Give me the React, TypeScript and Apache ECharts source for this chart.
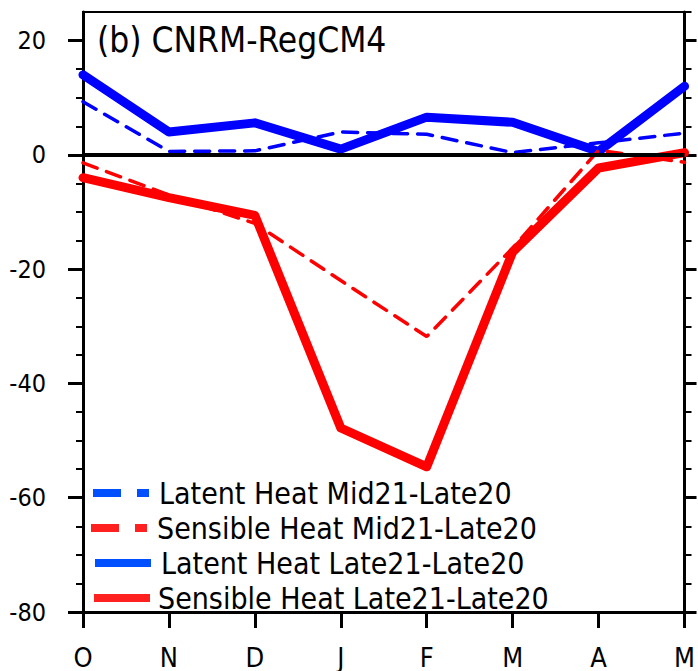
import React, { useEffect, useRef } from "react";
import * as echarts from "echarts";

const months = ["O", "N", "D", "J", "F", "M", "A", "M"];
const latentMid = [9.3, 0.6, 0.7, 4.0, 3.6, 0.4, 2.1, 3.8];
const sensibleMid = [-1.4, -7.0, -12.0, -22.0, -31.8, -16.3, 0.8, -1.3];
const latentLate = [14.0, 4.0, 5.6, 1.0, 6.6, 5.7, 0.6, 12.0];
const sensibleLate = [-4.0, -7.5, -10.6, -47.8, -54.6, -17.0, -2.3, 0.4];
const majorTicks = [-80, -60, -40, -20, 0, 20];
const legendNames = [
  "Latent Heat Mid21-Late20",
  "Sensible Heat Mid21-Late20",
  "Latent Heat Late21-Late20",
  "Sensible Heat Late21-Late20",
];
const titleText = "(b) CNRM-RegCM4";

const FONT = "DejaVu Sans Condensed";
const BLUE = "#0000ff";
const RED = "#ff0000";
const LBLUE = "#0050ff";
const LRED = "#ff2020";

export default function App() {
  const ref = useRef<HTMLDivElement>(null);
  useEffect(() => {
    if (!ref.current) return;
    const chart = echarts.init(ref.current, undefined, { renderer: "svg" });
    const baseY = {
      type: "value" as const,
      min: -80,
      max: 25,
      splitLine: { show: false },
    };
    const legendRows = [
      { y: 493, x1: 93, x2: 149, tx: 159, color: LBLUE, dash: [28, 16] },
      { y: 528, x1: 91, x2: 147, tx: 157, color: LRED, dash: [28, 16] },
      { y: 563, x1: 95, x2: 151, tx: 161, color: LBLUE, dash: null },
      { y: 598, x1: 94, x2: 150, tx: 158, color: LRED, dash: null },
    ];
    const graphics: any[] = [];
    legendRows.forEach((r, i) => {
      graphics.push({
        type: "line",
        shape: { x1: r.x1, y1: r.y, x2: r.x2, y2: r.y },
        style: {
          stroke: r.color,
          lineWidth: 8,
          lineDash: r.dash || undefined,
        },
        z: 100,
      });
      graphics.push({
        type: "text",
        x: r.tx,
        y: r.y,
        style: {
          text: legendNames[i],
          font: `30px "${FONT}"`,
          fill: "#000",
          verticalAlign: "middle",
          align: "left",
        },
        z: 100,
      });
    });
    graphics.push({
      type: "text",
      x: 97,
      y: 40,
      style: {
        text: titleText,
        font: `35px "${FONT}"`,
        fill: "#000",
        verticalAlign: "middle",
        align: "left",
      },
      z: 100,
    });

    chart.setOption({
      animation: false,
      backgroundColor: "#fff",
      textStyle: { fontFamily: FONT },
      grid: {
        left: 83,
        right: 12,
        top: 12,
        bottom: 57,
        show: true,
        borderColor: "#000",
        borderWidth: 2,
        backgroundColor: "transparent",
      },
      xAxis: {
        type: "category",
        data: months,
        boundaryGap: false,
        axisLine: { onZero: false, lineStyle: { color: "#000", width: 3 } },
        axisTick: { show: true, length: 16, lineStyle: { color: "#000", width: 3 } },
        axisLabel: { color: "#000", fontSize: 27, margin: 32, fontFamily: FONT },
        splitLine: { show: false },
      },
      yAxis: [
        {
          ...baseY,
          position: "left",
          interval: 5,
          axisLine: { show: true, onZero: false, lineStyle: { color: "#000", width: 3 } },
          axisTick: { show: true, length: 7, lineStyle: { color: "#000", width: 2 } },
          axisLabel: {
            color: "#000",
            fontSize: 25,
            margin: 37,
            fontFamily: FONT,
            showMaxLabel: false,
            formatter: (v: number) => (v % 20 === 0 ? String(v) : ""),
          },
        },
        {
          ...baseY,
          position: "left",
          interval: 20,
          axisLine: { show: false },
          axisTick: {
            show: true,
            length: 15,
            customValues: majorTicks,
            lineStyle: { color: "#000", width: 3 },
          },
          axisLabel: { show: false },
        },
        {
          ...baseY,
          position: "right",
          interval: 5,
          axisLine: { show: true, onZero: false, lineStyle: { color: "#000", width: 3 } },
          axisTick: { show: true, length: 7, lineStyle: { color: "#000", width: 2 } },
          axisLabel: { show: false },
        },
        {
          ...baseY,
          position: "right",
          interval: 20,
          axisLine: { show: false },
          axisTick: {
            show: true,
            length: 12,
            customValues: majorTicks,
            lineStyle: { color: "#000", width: 3 },
          },
          axisLabel: { show: false },
        },
      ],
      series: [
        {
          name: legendNames[2],
          type: "line",
          data: latentLate,
          symbol: "none",
          lineStyle: { color: BLUE, width: 9, cap: "round", join: "round" },
        },
        {
          name: legendNames[3],
          type: "line",
          data: sensibleLate,
          symbol: "none",
          lineStyle: { color: RED, width: 9, cap: "round", join: "round" },
        },
        {
          name: legendNames[0],
          type: "line",
          data: latentMid,
          symbol: "none",
          lineStyle: { color: BLUE, width: 3.5, type: [15, 10], cap: "round" },
        },
        {
          name: legendNames[1],
          type: "line",
          data: sensibleMid,
          symbol: "none",
          lineStyle: { color: RED, width: 3.5, type: [15, 10], cap: "round" },
          markLine: {
            silent: true,
            symbol: ["none", "none"],
            label: { show: false },
            lineStyle: { color: "#000", width: 4, type: "solid" },
            data: [{ yAxis: 0 }],
          },
        },
      ],
      graphic: graphics,
    });
    return () => chart.dispose();
  }, []);
  return (
    <div
      ref={ref}
      style={{ position: "fixed", left: 0, top: 0, width: 698, height: 671, background: "#fff" }}
    />
  );
}
